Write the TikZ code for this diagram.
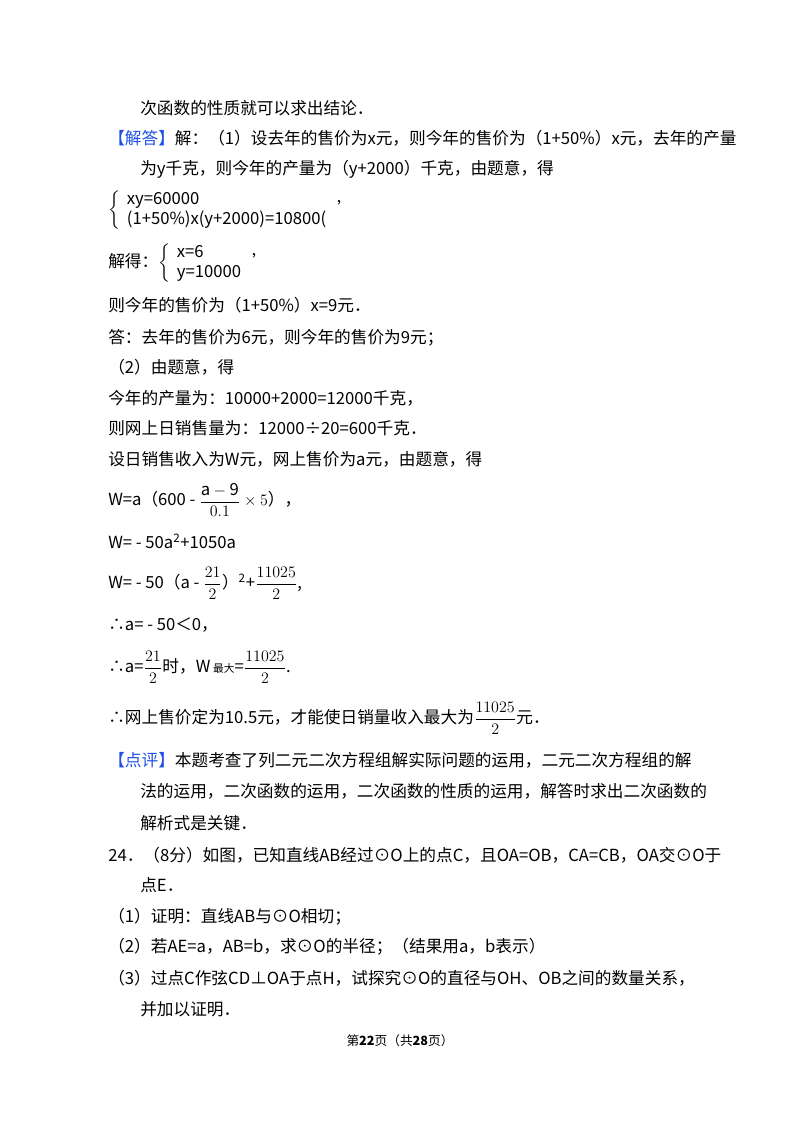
\documentclass[tikz,border=0pt]{standalone}
\usepackage{amsmath}
\usepackage{fontspec}
\setmainfont{Noto Sans CJK SC}
\newcommand{\hl}[1]{\textcolor{blueb}{#1}}
\definecolor{blueb}{RGB}{30,80,230}
\begin{document}
\begin{tikzpicture}[x=0.75pt,y=-0.75pt,
 t/.style={anchor=west,inner sep=0pt,font=\fontsize{12.5}{15}\selectfont}]
\useasboundingbox (0,0) rectangle (800,1132);
\node[t] (l1) at (140,108) {次函数的性质就可以求出结论．};
\node[t] (l2) at (108,138) {\hl{【解答】}解：（1）设去年的售价为x元，则今年的售价为（1+50\%）x元，去年的产量};
\node[t] (l3) at (140,169) {为y千克，则今年的产量为（y+2000）千克，由题意，得};
\node[t] (l4) at (108,210) {$\left\{\begin{array}{l}\mbox{xy=60000}\\ \mbox{(1+50\%)x(y+2000)=10800(}\end{array}\right.$\,'};
\node[t] (l5) at (108,263) {解得：$\left\{\begin{array}{l}\mbox{x=6}\\ \mbox{y=10000}\end{array}\right.$\,'};
\node[t] (l6) at (108,305) {则今年的售价为（1+50\%）x=9元．};
\node[t] (l7) at (108,338) {答：去年的售价为6元，则今年的售价为9元；};
\node[t] (l8) at (108,367) {（2）由题意，得};
\node[t] (l9) at (108,398) {今年的产量为：10000+2000=12000千克，};
\node[t] (l10) at (108,428) {则网上日销售量为：12000÷20=600千克．};
\node[t] (l11) at (108,459) {设日销售收入为W元，网上售价为a元，由题意，得};
\node[t] (l12) at (108,500) {W=a（600 - $\dfrac{\mathrm{a-9}}{0.1}\times 5$），};
\node[t] (l13) at (108,541) {W= - 50a\textsuperscript{2}+1050a};
\node[t] (l14) at (108,583) {W= - 50（a - $\dfrac{21}{2}$）\textsuperscript{2}+$\dfrac{11025}{2}$,};
\node[t] (l15) at (108,625) {∴a= - 50＜0，};
\node[t] (l16) at (108,667) {∴a=$\dfrac{21}{2}$时，W\,{\fontsize{8}{9}\selectfont 最大}=$\dfrac{11025}{2}$.};
\node[t] (l17) at (108,718) {∴网上售价定为10.5元，才能使日销量收入最大为$\dfrac{11025}{2}$元．};
\node[t] (l18) at (108,760) {\hl{【点评】}本题考查了列二元二次方程组解实际问题的运用，二元二次方程组的解};
\node[t] (l19) at (140,791) {法的运用，二次函数的运用，二次函数的性质的运用，解答时求出二次函数的};
\node[t] (l20) at (140,823) {解析式是关键．};
\node[t] (l21) at (108,855) {24．（8分）如图，已知直线AB经过⊙O上的点C，且OA=OB，CA=CB，OA交⊙O于};
\node[t] (l22) at (140,885) {点E．};
\node[t] (l23) at (108,917) {（1）证明：直线AB与⊙O相切；};
\node[t] (l24) at (108,947) {（2）若AE=a，AB=b，求⊙O的半径；（结果用a，b表示）};
\node[t] (l25) at (108,978) {（3）过点C作弦CD⊥OA于点H，试探究⊙O的直径与OH、OB之间的数量关系，};
\node[t] (l26) at (140,1009) {并加以证明．};
\node[inner sep=0pt,font=\fontsize{9.5}{11}\selectfont] (ft) at (400,1041) {第\textbf{22}页（共\textbf{28}页）};
\end{tikzpicture}
\end{document}
